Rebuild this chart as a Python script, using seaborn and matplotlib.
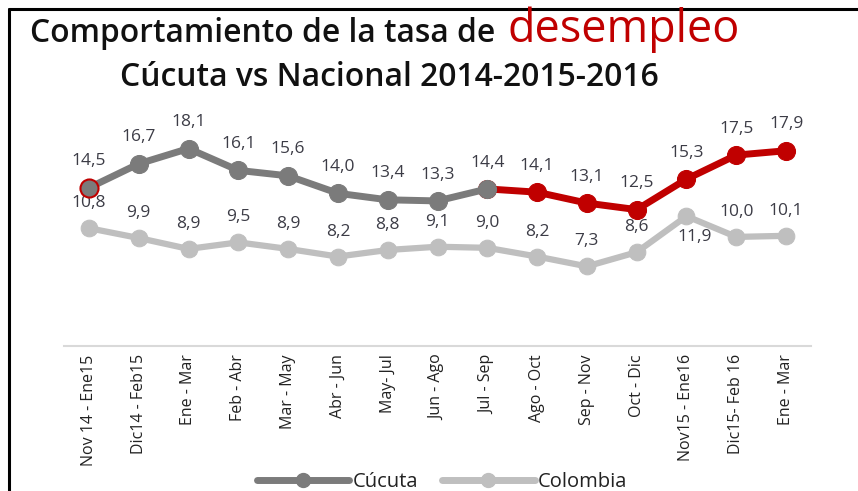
import matplotlib.pyplot as plt
import seaborn as sns
import pandas as pd
from matplotlib.lines import Line2D

periodos = ["Nov 14 - Ene15", "Dic14 - Feb15", "Ene - Mar", "Feb - Abr", "Mar - May",
            "Abr - Jun", "May- Jul", "Jun - Ago", "Jul - Sep", "Ago - Oct",
            "Sep - Nov", "Oct - Dic", "Nov15 - Ene16", "Dic15- Feb 16", "Ene - Mar"]
cucuta = [14.5, 16.7, 18.1, 16.1, 15.6, 14.0, 13.4, 13.3, 14.4, 14.1, 13.1, 12.5, 15.3, 17.5, 17.9]
colombia = [10.8, 9.9, 8.9, 9.5, 8.9, 8.2, 8.8, 9.1, 9.0, 8.2, 7.3, 8.6, 11.9, 10.0, 10.1]

sns.set_style("white")
plt.rcParams['font.family'] = ['Open Sans', 'DejaVu Sans']

dark = "#7b7b7b"
light = "#bfbfbf"
red = "#c00000"
txt = "#3c3c46"

df = pd.DataFrame({"x": range(len(periodos)), "Cúcuta": cucuta, "Colombia": colombia})

fig = plt.figure(figsize=(8.58, 4.91), dpi=100)
ax = fig.add_axes([64 / 858, 1 - 346 / 491, 747 / 858, 240 / 491])

# Colombia
sns.lineplot(data=df, x="x", y="Colombia", color=light, lw=4.5, marker="o", ms=12,
             mec=light, ax=ax, zorder=2)
# Cúcuta: red part for the last stretch, grey part at the start
sns.lineplot(data=df.iloc[8:], x="x", y="Cúcuta", color=red, lw=5, marker="o", ms=13,
             mec=red, ax=ax, zorder=3)
sns.lineplot(data=df.iloc[:9], x="x", y="Cúcuta", color=dark, lw=5, marker="o", ms=13,
             mec=dark, ax=ax, zorder=4)
ax.plot(df["x"].iloc[:1], df["Cúcuta"].iloc[:1], "o", ms=13, mfc=dark, mec=red, mew=1.5, zorder=5)

for i, (a, b) in enumerate(zip(cucuta, colombia)):
    ax.annotate(f"{a:.1f}".replace(".", ","), (i, a), xytext=(0, 19), textcoords="offset points",
                ha="center", va="center", fontsize=12.5, color=txt)
    if i == 12:
        off = (6, -15)
    else:
        off = (0, 18)
    ax.annotate(f"{b:.1f}".replace(".", ","), (i, b), xytext=off, textcoords="offset points",
                ha="center", va="center", fontsize=12.5, color=txt)

ax.set_xlim(-0.5, len(periodos) - 0.5)
ax.set_ylim(0, 22)
ax.set_xticks(range(len(periodos)))
ax.set_xticklabels(periodos, rotation=90, fontsize=11.5, color="#222222")
ax.tick_params(axis="x", length=0, pad=6)
ax.set_yticks([])
ax.set_xlabel("")
ax.set_ylabel("")
sns.despine(ax=ax, left=True, top=True, right=True)
ax.spines["bottom"].set_color("#d9d9d9")
ax.spines["bottom"].set_linewidth(1.5)

handles = [Line2D([], [], color=dark, lw=5, marker="o", ms=10),
           Line2D([], [], color=light, lw=5, marker="o", ms=10)]
fig.legend(handles, ["Cúcuta", "Colombia"], loc="center", bbox_to_anchor=(442 / 858, 1 - 482 / 491),
           ncol=2, frameon=False, handlelength=4.6, handletextpad=0.15, columnspacing=1.2,
           fontsize=14.5, labelcolor="#222222")


def fit_text(x0, ybase, s, width, **kw):
    t = fig.text(x0 / 858, 1 - ybase / 491, s, va="baseline", ha="left", **kw)
    fig.canvas.draw()
    w = t.get_window_extent().width
    t.set_fontsize(t.get_fontsize() * width / w)
    fig.canvas.draw()
    return t


# title in two pieces
t1 = fit_text(30, 42, "Comportamiento de la tasa de", 465, fontsize=18,
              fontweight="semibold", color="#111111")
x_end = t1.get_window_extent().x1
fit_text(x_end + 12, 42, "desempleo", 232, fontsize=28, color=red)
fit_text(120, 86, "Cúcuta vs Nacional 2014-2015-2016", 540, fontsize=18,
         fontweight="semibold", color="#111111")

# frame lines (top and left)
fig.add_artist(Line2D([9 / 858, 9 / 858], [0, 1 - 9 / 491], color="black", lw=2.2,
                      transform=fig.transFigure))
fig.add_artist(Line2D([9 / 858, 1], [1 - 9 / 491, 1 - 9 / 491], color="black", lw=2.2,
                      transform=fig.transFigure))

fig.savefig("out.png", dpi=100)
